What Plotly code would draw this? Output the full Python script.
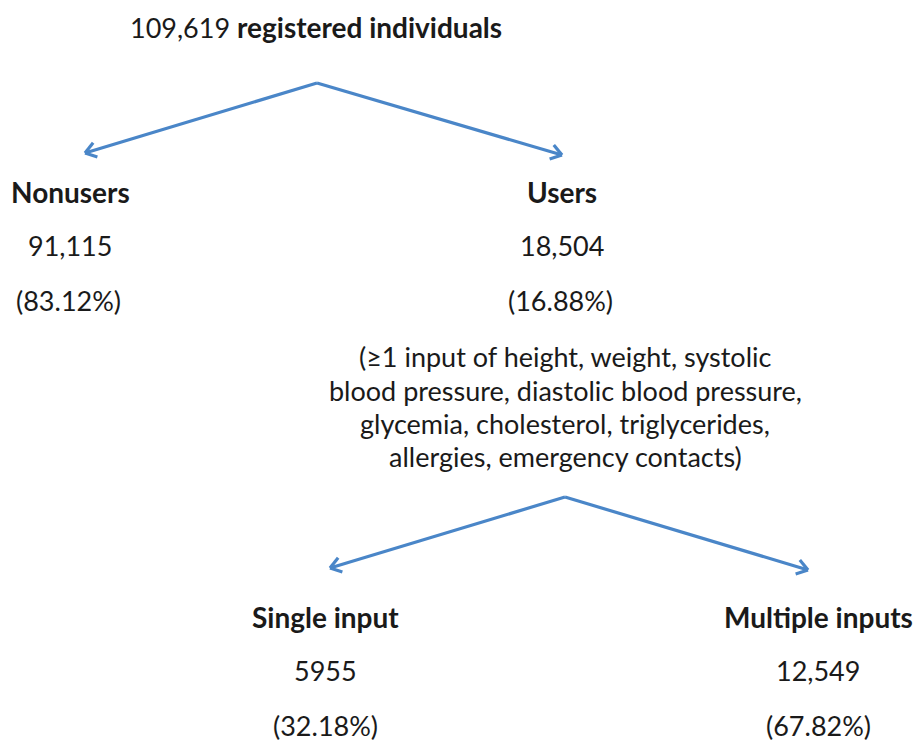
import math
import plotly.graph_objects as go

# ---- data ----
root_count = "109,619"
root_label = "registered individuals"
level1_labels = ["Nonusers", "Users"]
level1_counts = ["91,115", "18,504"]
level1_pcts = ["(83.12%)", "(16.88%)"]
users_note = ["(≥1 input of height, weight, systolic",
              "blood pressure, diastolic blood pressure,",
              "glycemia, cholesterol, triglycerides,",
              "allergies, emergency contacts)"]
level2_labels = ["Single input", "Multiple inputs"]
level2_counts = ["5955", "12,549"]
level2_pcts = ["(32.18%)", "(67.82%)"]

# ---- layout (pixel positions) ----
W, H = 915, 742
FONT = "Lato"
TXT = "#1a1a1a"
ARROW = "#4a86c8"
FS = 27
FSB = 28

fig = go.Figure()

def arrow(x0, y0, x1, y1):
    fig.add_trace(go.Scatter(x=[x0, x1], y=[y0, y1], mode="lines",
                             line=dict(color=ARROW, width=3.2), hoverinfo="skip",
                             showlegend=False))
    ang = math.atan2(y1 - y0, x1 - x0)
    L = 13
    for d in (0.6, -0.6):
        a = ang + math.pi + d
        fig.add_trace(go.Scatter(x=[x1, x1 + L * math.cos(a)], y=[y1, y1 + L * math.sin(a)],
                                 mode="lines", line=dict(color=ARROW, width=3.2),
                                 hoverinfo="skip", showlegend=False))

def text(x, y, s, bold=False, size=None):
    fig.add_annotation(x=x, y=y, text=(f"<b>{s}</b>" if bold else s), showarrow=False,
                       xanchor="center", yanchor="middle",
                       font=dict(family=FONT, size=size or (FSB if bold else FS), color=TXT))

# root
text(316, 27, f"{root_count} <span style='font-size:{FSB}px'><b>{root_label}</b></span>")
arrow(317, 83, 85, 153)
arrow(317, 83, 562, 155)

# level 1
l1x = [70, 562]
for i in range(2):
    text(l1x[i], 192, level1_labels[i], bold=True)
    text(l1x[i], 245, level1_counts[i])
    text(l1x[i] - 2, 300, level1_pcts[i])

note_y = [356, 390, 423, 456]
for s, y in zip(users_note, note_y):
    text(565, y, s)

arrow(565, 497, 330, 568)
arrow(565, 497, 808, 570)

l2x = [325, 818]
for i in range(2):
    text(l2x[i], 617, level2_labels[i], bold=True)
    text(l2x[i], 670, level2_counts[i])
    text(l2x[i], 725, level2_pcts[i])

fig.update_layout(width=W, height=H, margin=dict(l=0, r=0, t=0, b=0),
                  paper_bgcolor="white", plot_bgcolor="white",
                  xaxis=dict(range=[0, W], visible=False, fixedrange=True),
                  yaxis=dict(range=[H, 0], visible=False, fixedrange=True))
fig.write_html("out.html", config={"displayModeBar": False},
               post_script="document.body.style.margin='0px';document.body.style.overflow='hidden';")
